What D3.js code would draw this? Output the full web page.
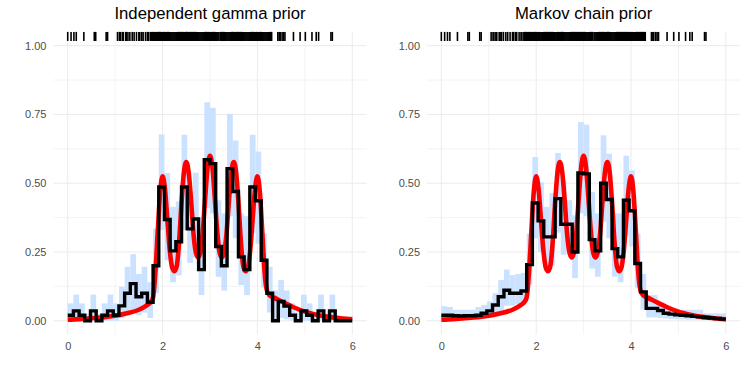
<!DOCTYPE html>
<html>
<head>
<meta charset="utf-8">
<title>Independent gamma vs Markov chain prior</title>
<script src="https://d3js.org/d3.v7.min.js"></script>
<style>
  body { margin: 0; background: #ffffff; }
  svg { display: block; font-family: "Liberation Sans", Arial, sans-serif; }
  .grid-major { stroke: #ebebeb; stroke-width: 1; }
  .grid-minor { stroke: #ebebeb; stroke-width: 0.6; }
  .tick text { fill: #4d4d4d; font-size: 11px; }
  .title { font-size: 16.7px; fill: #000; }
</style>
</head>
<body>
<div id="chart"></div>
<script>
// bin left edges (width 0.12 on 0..6)
var binStart = [0,0.12,0.24,0.36,0.48,0.6,0.72,0.84,0.96,1.08,1.2,1.32,1.44,1.56,1.68,1.8,1.92,2.04,2.16,2.28,
  2.4,2.52,2.64,2.76,2.88,3,3.12,3.24,3.36,3.48,3.6,3.72,3.84,3.96,4.08,4.2,4.32,4.44,4.56,4.68,
  4.8,4.92,5.04,5.16,5.28,5.4,5.52,5.64,5.76,5.88];
var binWidth = 0.12;

// independent gamma prior: posterior mean and band per bin
var gammaMean = [0.02,0.036,0.02,0,0.036,0,0.02,0.036,0.02,0.054,0.10,0.135,0.087,0.10,0.067,0.20,0.486,0.368,0.254,0.287,
  0.486,0.334,0.37,0.186,0.585,0.571,0.27,0.2,0.553,0.47,0.232,0.186,0.486,0.436,0.22,0.10,0,0.07,0.053,0.02,
  0,0.036,0.02,0,0.036,0,0.036,0,0,0];
var gammaLower = [0,0,0,0,0,0,0,0,0,0.01,0.025,0.04,0.02,0.03,0.01,0.1,0.33,0.22,0.14,0.165,
  0.33,0.21,0.23,0.093,0.41,0.39,0.16,0.11,0.38,0.3,0.13,0.093,0.32,0.28,0.12,0.03,0,0.01,0.005,0,
  0,0,0,0,0,0,0,0,0,0];
var gammaUpper = [0.063,0.095,0.063,0.025,0.095,0.025,0.063,0.095,0.063,0.123,0.196,0.242,0.17,0.196,0.14,0.335,0.677,0.537,0.414,0.434,
  0.676,0.468,0.538,0.341,0.794,0.774,0.438,0.39,0.752,0.655,0.39,0.38,0.676,0.615,0.317,0.196,0.11,0.148,0.11,0.063,
  0.03,0.095,0.063,0.025,0.095,0.025,0.095,0.015,0.015,0.015];

// Markov chain prior
var markovMean = [0.02,0.02,0.018,0.017,0.018,0.018,0.02,0.027,0.036,0.057,0.087,0.111,0.1,0.1,0.108,0.204,0.428,0.363,0.305,0.305,
  0.444,0.351,0.351,0.25,0.537,0.534,0.295,0.254,0.5,0.441,0.262,0.232,0.438,0.4,0.208,0.105,0.045,0.045,0.037,0.027,
  0.024,0.022,0.02,0.018,0.016,0.014,0.012,0.01,0.008,0.006];
var markovLower = [0.005,0.005,0.005,0.005,0.005,0.005,0.005,0.007,0.01,0.02,0.03,0.055,0.055,0.06,0.065,0.13,0.3,0.25,0.18,0.2,
  0.32,0.24,0.25,0.155,0.39,0.38,0.19,0.16,0.36,0.3,0.16,0.14,0.31,0.27,0.12,0.04,0.012,0.012,0.01,0.008,
  0.006,0.005,0.005,0.004,0.004,0.003,0.003,0.002,0.002,0.002];
var markovUpper = [0.053,0.05,0.04,0.04,0.04,0.04,0.05,0.057,0.07,0.1,0.148,0.186,0.166,0.17,0.174,0.317,0.595,0.504,0.414,0.464,
  0.61,0.51,0.438,0.383,0.722,0.713,0.468,0.39,0.674,0.607,0.39,0.39,0.6,0.547,0.317,0.17,0.093,0.093,0.07,0.057,
  0.045,0.04,0.04,0.04,0.04,0.04,0.027,0.027,0.027,0.027];

// true density (red)
var truthX = [0,0.25,0.5,0.75,1,1.25,1.5,1.65,1.75,1.8,1.85,1.9,1.95,2,2.05,2.1,2.15,2.2,2.25,2.3,2.35,2.4,2.45,2.5,
  2.55,2.6,2.65,2.7,2.75,2.8,2.85,2.9,2.95,3,3.05,3.1,3.15,3.2,3.25,3.3,3.35,3.4,3.45,3.5,3.55,3.6,3.65,3.7,3.75,
  3.8,3.85,3.9,3.95,4,4.05,4.1,4.15,4.2,4.25,4.35,4.5,4.75,5,5.25,5.5,5.75,6];
var truthY = [0.004,0.006,0.009,0.013,0.018,0.027,0.04,0.054,0.068,0.085,0.18,0.33,0.47,0.525,0.48,0.37,0.26,0.195,0.18,0.2,0.29,0.43,0.54,0.577,
  0.54,0.44,0.32,0.25,0.23,0.25,0.33,0.45,0.56,0.6,0.56,0.45,0.33,0.25,0.23,0.25,0.32,0.44,0.54,0.577,0.54,0.43,0.29,0.2,0.18,
  0.195,0.26,0.37,0.48,0.525,0.47,0.33,0.18,0.11,0.094,0.084,0.071,0.05,0.033,0.022,0.014,0.009,0.005];

// observations (rug)
var obs = [0.0,0.07,0.13,0.18,0.34,0.56,0.59,0.81,0.84,1.05,1.09,1.11,1.15,1.17,1.22,1.24,1.27,1.31,1.36,1.4,1.45,1.5,1.52,1.56,1.59,1.64,1.68,1.7,
  1.74,1.76,1.77,1.79,1.81,1.82,1.84,1.85,1.87,1.88,1.9,1.91,1.92,1.93,1.95,1.96,1.97,1.99,2.0,2.01,2.02,2.04,2.05,2.07,2.08,2.1,
  2.12,2.14,2.16,2.18,2.2,2.22,2.24,2.26,2.28,2.3,2.32,2.34,2.36,2.38,2.4,2.42,2.44,2.45,2.47,2.48,2.5,2.51,2.52,2.54,2.55,2.57,
  2.59,2.61,2.63,2.65,2.67,2.69,2.71,2.73,2.75,2.77,2.79,2.81,2.83,2.85,2.87,2.89,2.91,2.92,2.94,2.95,2.97,2.98,3.0,3.01,3.02,
  3.04,3.05,3.07,3.09,3.11,3.13,3.15,3.17,3.19,3.22,3.24,3.26,3.28,3.3,3.32,3.34,3.36,3.38,3.4,3.42,3.44,3.45,3.47,3.48,3.5,
  3.51,3.53,3.54,3.56,3.58,3.6,3.62,3.64,3.66,3.68,3.7,3.72,3.74,3.76,3.78,3.8,3.82,3.84,3.86,3.88,3.9,3.92,3.94,3.95,3.97,
  3.98,4.0,4.01,4.03,4.04,4.06,4.08,4.1,4.12,4.14,4.16,4.18,4.2,4.22,4.24,4.26,4.28,4.3,
  4.43,4.46,4.48,4.52,4.55,4.58,4.76,4.9,5.01,5.15,5.24,5.29,5.55,5.58];

var titles = ["Independent gamma prior", "Markov chain prior"];
var xTicks = [0, 2, 4, 6];
var yTicks = [0, 0.25, 0.5, 0.75, 1];
var xMinor = [1, 3, 5];
var yMinor = [0.125, 0.375, 0.625, 0.875];

var panels = [
  {title: titles[0], mean: gammaMean, lower: gammaLower, upper: gammaUpper, left: 53.5},
  {title: titles[1], mean: markovMean, lower: markovLower, upper: markovUpper, left: 427.1}
];

var W = 747, H = 374;
var pw = 313, ph = 302.6, panelTop = 31.9;

var svg = d3.select("#chart").append("svg")
  .attr("width", W).attr("height", H);

var x = d3.scaleLinear().domain([-0.3, 6.3]).range([0, pw]);
var y = d3.scaleLinear().domain([-0.05, 1.05]).range([ph, 0]);

panels.forEach(function(p) {
  var g = svg.append("g").attr("transform", "translate(" + p.left + "," + panelTop + ")");

  // grid
  g.selectAll(".ymin").data(yMinor).enter().append("line")
    .attr("class", "grid-minor")
    .attr("x1", 0).attr("x2", pw)
    .attr("y1", function(d) { return y(d); }).attr("y2", function(d) { return y(d); });
  g.selectAll(".xmin").data(xMinor).enter().append("line")
    .attr("class", "grid-minor")
    .attr("y1", 0).attr("y2", ph)
    .attr("x1", function(d) { return x(d); }).attr("x2", function(d) { return x(d); });
  g.selectAll(".ymaj").data(yTicks).enter().append("line")
    .attr("class", "grid-major")
    .attr("x1", 0).attr("x2", pw)
    .attr("y1", function(d) { return y(d); }).attr("y2", function(d) { return y(d); });
  g.selectAll(".xmaj").data(xTicks).enter().append("line")
    .attr("class", "grid-major")
    .attr("y1", 0).attr("y2", ph)
    .attr("x1", function(d) { return x(d); }).attr("x2", function(d) { return x(d); });

  // credible band per bin
  g.append("g").selectAll("rect").data(binStart).enter().append("rect")
    .attr("x", function(d) { return x(d); })
    .attr("width", function(d) { return x(d + binWidth) - x(d); })
    .attr("y", function(d, i) { return y(p.upper[i]); })
    .attr("height", function(d, i) { return y(p.lower[i]) - y(p.upper[i]); })
    .attr("fill", "#cae1ff");

  // true density
  var truth = truthX.map(function(v, i) { return [v, truthY[i]]; });
  g.append("path")
    .datum(truth)
    .attr("fill", "none")
    .attr("stroke", "#ff0000")
    .attr("stroke-width", 4.6)
    .attr("d", d3.line()
      .x(function(d) { return x(d[0]); })
      .y(function(d) { return y(d[1]); })
      .curve(d3.curveMonotoneX));

  // posterior mean step
  var steps = binStart.map(function(v, i) { return [v, p.mean[i]]; });
  steps.push([6, p.mean[p.mean.length - 1]]);
  g.append("path")
    .datum(steps)
    .attr("fill", "none")
    .attr("stroke", "#000")
    .attr("stroke-width", 3.4)
    .attr("stroke-linejoin", "miter")
    .attr("d", d3.line()
      .x(function(d) { return x(d[0]); })
      .y(function(d) { return y(d[1]); })
      .curve(d3.curveStepAfter));

  // rug on top
  g.append("g").selectAll("line").data(obs).enter().append("line")
    .attr("x1", function(d) { return x(d); }).attr("x2", function(d) { return x(d); })
    .attr("y1", 0).attr("y2", 0.03 * ph)
    .attr("stroke", "#000").attr("stroke-width", 1.6);

  // axes (labels only)
  var ax = g.append("g").attr("transform", "translate(0," + ph + ")")
    .call(d3.axisBottom(x).tickValues(xTicks).tickSize(0).tickPadding(8).tickFormat(d3.format("d")));
  ax.select(".domain").remove();
  var ay = g.append("g")
    .call(d3.axisLeft(y).tickValues(yTicks).tickSize(0).tickPadding(7).tickFormat(d3.format(".2f")));
  ay.select(".domain").remove();
  g.selectAll(".tick text").attr("font-family", "Liberation Sans, Arial, sans-serif").attr("font-size", 11);

  svg.append("text")
    .attr("class", "title")
    .attr("x", p.left + pw / 2)
    .attr("y", 19)
    .attr("text-anchor", "middle")
    .text(p.title);
});
</script>
</body>
</html>
